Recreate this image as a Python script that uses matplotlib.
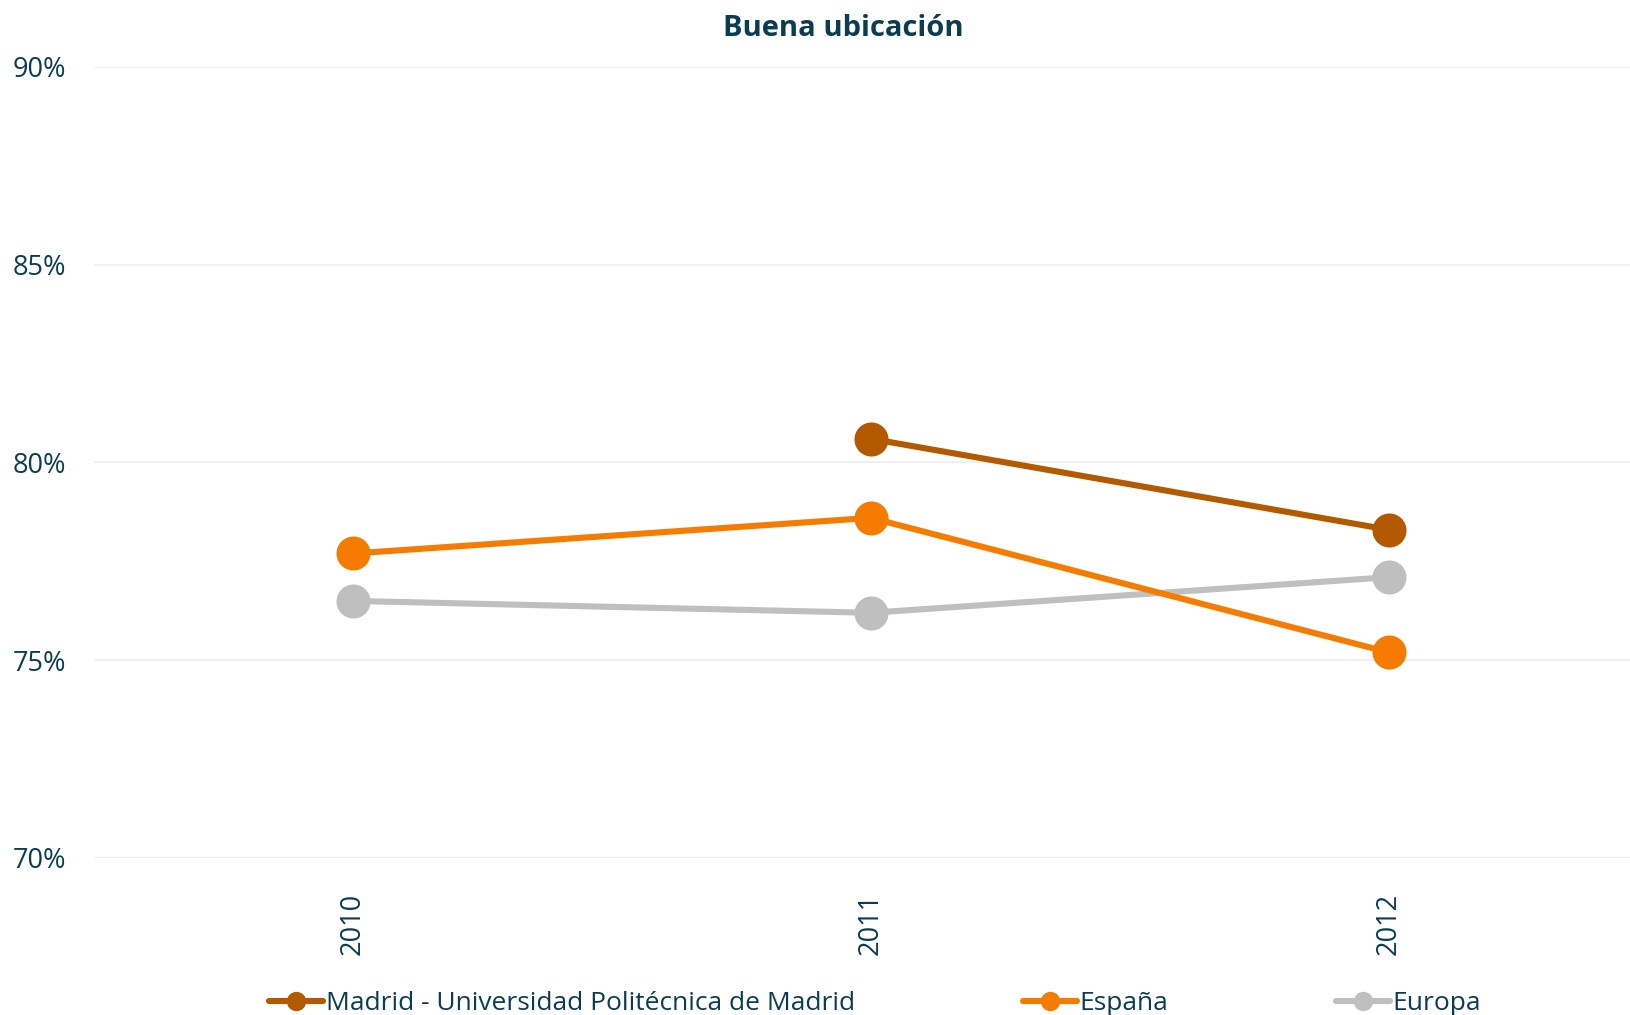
import matplotlib.pyplot as plt
from matplotlib.ticker import FuncFormatter

plt.rcParams['font.family'] = ['Open Sans', 'DejaVu Sans']

# Datos
years = ['2010', '2011', '2012']
madrid = [None, 80.6, 78.3]
espana = [77.7, 78.6, 75.2]
europa = [76.5, 76.2, 77.1]

text_color = '#0b3c52'
series = [
    ('Madrid - Universidad Politécnica de Madrid', madrid, '#b35900'),
    ('España', espana, '#f57c00'),
    ('Europa', europa, '#bfbfbf'),
]

W, H = 1630, 1015
fig = plt.figure(figsize=(W / 100, H / 100), dpi=100)
ax = fig.add_axes([94 / W, 1 - 858 / H, (W - 94) / W, (858 - 67) / H])

x = list(range(len(years)))
for label, vals, color in reversed(series):
    xs = [i for i, v in zip(x, vals) if v is not None]
    ys = [v for v in vals if v is not None]
    ax.plot(xs, ys, color=color, lw=4.4, marker='o', ms=23.5,
            label=label, solid_capstyle='round')

ax.set_xlim(-0.5, 2.466)
ax.set_ylim(70, 90)
ax.set_yticks([70, 75, 80, 85, 90])
ax.yaxis.set_major_formatter(FuncFormatter(lambda v, p: f'{v:.0f}%'))
ax.set_xticks(x)
ax.set_xticklabels(years, rotation=90)
ax.tick_params(axis='both', length=0, labelsize=19.5, colors=text_color)
ax.tick_params(axis='x', pad=25)
ax.tick_params(axis='y', pad=20)
ax.grid(axis='y', color='#eeeeee', lw=1.2)
ax.set_axisbelow(True)
for s in ax.spines.values():
    s.set_visible(False)

fig.text(843 / W, 1 - 28 / H, 'Buena ubicación', fontsize=21,
         fontweight='bold', color=text_color, ha='center', va='center')

handles, labels = ax.get_legend_handles_labels()
leg = fig.legend(handles[::-1], labels[::-1], loc='center',
                 bbox_to_anchor=(875 / W, 1 - 1004 / H), ncol=3,
                 frameon=False, fontsize=19, handlelength=2.05,
                 columnspacing=6.35, handletextpad=0.1, markerscale=0.55,
                 borderpad=0)
for t in leg.get_texts():
    t.set_color(text_color)

fig.savefig('out.png', dpi=100)
